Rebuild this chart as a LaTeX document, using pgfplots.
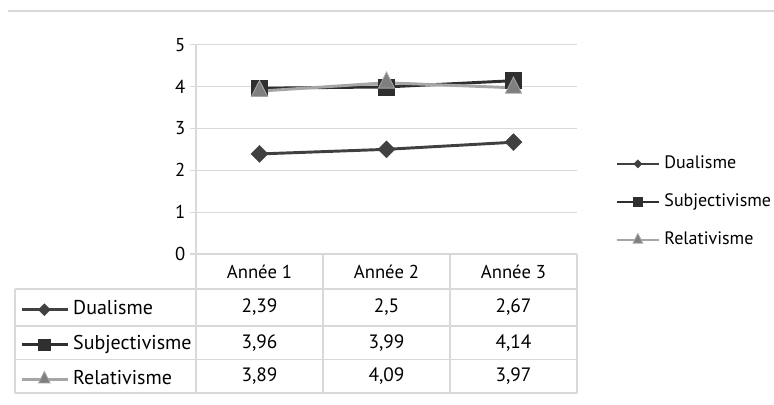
\documentclass[border=0pt]{standalone}
\usepackage{pgfplots}
\pgfplotsset{compat=1.18}
\usepackage{pgfplotstable}
\usepackage{fontspec}
\setmainfont{PT Sans}

\definecolor{gridc}{HTML}{D9D9D9}
\definecolor{cdual}{HTML}{404040}
\definecolor{csubj}{HTML}{2F2F2F}
\definecolor{crel}{HTML}{A6A6A6}
\definecolor{crelmark}{HTML}{7F7F7F}

% mean scores per year
\pgfplotstableread{
x dual subj rel
0 2.39 3.96 3.89
1 2.50 3.99 4.09
2 2.67 4.14 3.97
}\scores

\pgfplotsset{
  dual/.style={color=cdual, line width=2.2pt, mark=square*, mark size=#1,
    mark options={rotate=45, solid, line width=0.3pt}},
  subj/.style={color=csubj, line width=2.2pt, mark=square*, mark size=#1,
    mark options={solid, line width=0.3pt}},
  rel/.style={color=crel, line width=2.2pt, mark=triangle*, mark size=#1,
    mark options={solid, fill=crelmark, draw=crel, line width=0.6pt, yscale=1.15}},
  base/.style={
    at={(0,0)}, anchor=south west, scale only axis,
    width=285.75pt, height=157pt,
    xmin=-0.5, xmax=2.5, ymin=0, ymax=5, clip=false,
  },
}

\newcommand{\tickfont}{\fontsize{14}{16}\selectfont}
\newcommand{\numfont}{\fontsize{14.5}{16}\selectfont}
\newcommand{\rowfont}{\fontsize{15}{17}\selectfont}

\begin{document}
\begin{tikzpicture}
\begin{axis}[base,
  xtick={0,1,2}, xticklabels={Année 1, Année 2, Année 3},
  ytick={0,1,2,3,4,5},
  axis lines*=left, axis line style={draw=gridc, line width=0.8pt},
  ymajorgrids, grid style={draw=gridc, line width=0.8pt},
  tick align=outside, major tick length=4.5pt,
  xtick style={draw=none}, ytick style={draw=gridc, line width=0.8pt},
  tick label style={font=\tickfont, text=black},
  x tick label style={anchor=center, yshift=-8.6pt},
  /pgf/number format/assume math mode=true,
  /pgf/number format/use comma,
  legend style={at={(1.0997,0.473)}, anchor=north west, draw=none, fill=none,
    inner sep=0pt, font=\fontsize{13.5}{15}\selectfont,
    nodes={inner sep=0pt, text height=10pt, text depth=3pt},
    row sep=15.5pt, column sep=3pt, legend cell align=left},
  legend image code/.code={\draw[mark repeat=2, mark phase=2, #1]
    plot coordinates {(0pt,0pt) (16pt,0pt) (32pt,0pt)};},
]
% data table grid
\draw[gridc, line width=0.8pt]
  (axis cs:-1.925,-0.836) -- (axis cs:2.5,-0.836)
  (axis cs:-1.925,-1.72) -- (axis cs:2.5,-1.72)
  (axis cs:-1.925,-2.53) -- (axis cs:2.5,-2.53)
  (axis cs:-1.925,-3.32) -- (axis cs:2.5,-3.32)
  (axis cs:-1.925,-0.836) -- (axis cs:-1.925,-3.32)
  (axis cs:-0.5,0) -- (axis cs:-0.5,-3.32)
  (axis cs:0.5,0) -- (axis cs:0.5,-3.32)
  (axis cs:1.5,0) -- (axis cs:1.5,-3.32)
  (axis cs:2.5,0) -- (axis cs:2.5,-3.32);

\addplot[dual=4.5pt, forget plot] table[x=x, y=dual] {\scores};
\addplot[subj=6pt, forget plot] table[x=x, y=subj] {\scores};
\addplot[rel=7pt, forget plot] table[x=x, y=rel] {\scores};

% values in the data table
\addplot[draw=none, mark=none, forget plot, nodes near coords, point meta=explicit,
  nodes near coords style={anchor=center, font=\numfont, text=black}]
  table[x=x, y expr=-1.278, meta=dual] {\scores};
\addplot[draw=none, mark=none, forget plot, nodes near coords, point meta=explicit,
  nodes near coords style={anchor=center, font=\numfont, text=black}]
  table[x=x, y expr=-2.125, meta=subj] {\scores};
\addplot[draw=none, mark=none, forget plot, nodes near coords, point meta=explicit,
  nodes near coords style={anchor=center, font=\numfont, text=black}]
  table[x=x, y expr=-2.925, meta=rel] {\scores};

\addlegendimage{dual=2.2pt, line width=1.9pt}
\addlegendimage{subj=3.3pt, line width=1.9pt}
\addlegendimage{rel=4.2pt, line width=1.9pt}
\legend{Dualisme, Subjectivisme, Relativisme}
\end{axis}

% series keys in the data table
\begin{axis}[base, hide axis,
  legend style={at={(-0.462,-0.219)}, anchor=north west, draw=none, fill=none,
    inner sep=0pt, font=\rowfont,
    nodes={inner sep=0pt, text height=11pt, text depth=3.5pt},
    row sep=11.5pt, column sep=3pt, legend cell align=left},
  legend image code/.code={\draw[mark repeat=2, mark phase=2, #1]
    plot coordinates {(0pt,0pt) (17pt,0pt) (34.5pt,0pt)};},
]
\addlegendimage{dual=3.2pt}
\addlegendimage{subj=4.3pt}
\addlegendimage{rel=5pt}
\legend{Dualisme, Subjectivisme, Relativisme}
\end{axis}

% thin rule along the top
\draw[gridc, line width=0.8pt] (-141pt,182.25pt) -- (433.5pt,182.25pt);
\pgfresetboundingbox
\path[use as bounding box] (-147pt,-112.5pt) rectangle (433.5pt,190.5pt);
\end{tikzpicture}
\end{document}
